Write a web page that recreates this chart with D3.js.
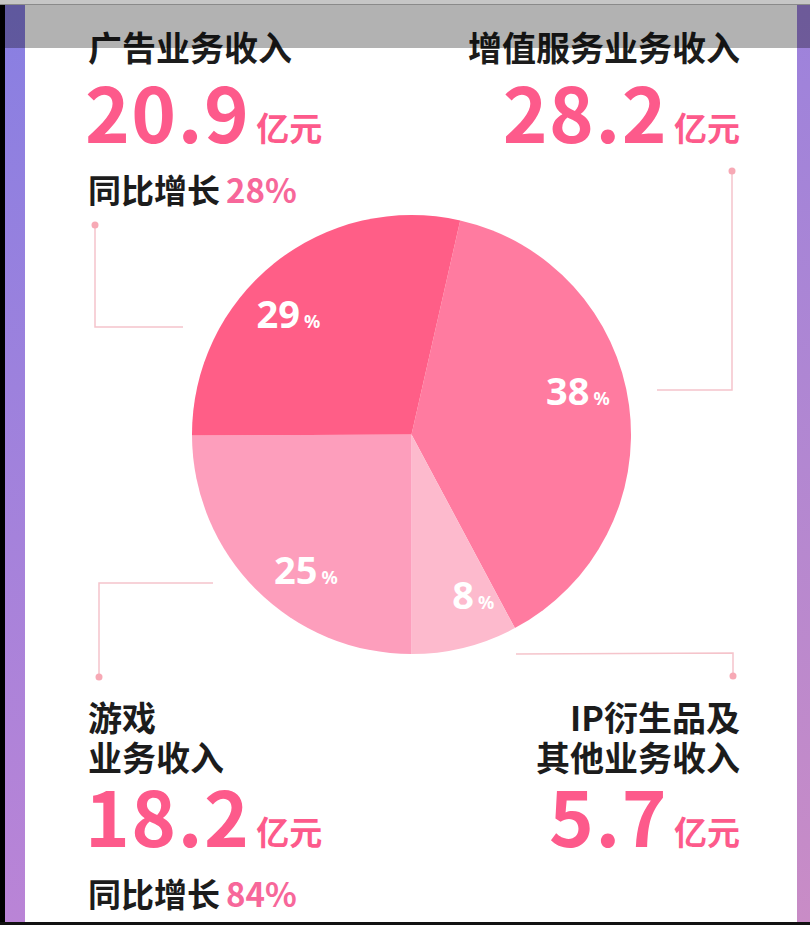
<!DOCTYPE html>
<html>
<head>
<meta charset="utf-8">
<script src="https://cdn.jsdelivr.net/npm/d3@7"></script>
<style>
  html, body { margin: 0; padding: 0; background: #fff; }
  svg { display: block; }
</style>
</head>
<body>
<svg id="graph"></svg>
<script>
// data, in pie order (clockwise from the right-hand slice)
var categories = ["增值服务业务收入", "IP衍生品及其他业务收入", "游戏业务收入", "广告业务收入"]
var titleLines = [["增值服务业务收入"], ["IP衍生品及", "其他业务收入"], ["游戏", "业务收入"], ["广告业务收入"]]
var revenue = [28.2, 5.7, 18.2, 20.9]
var revenueLabels = ["28.2", "5.7", "18.2", "20.9"]
var shareLabels = ["38", "8", "25", "29"]
var growthLabels = [null, null, "84%", "28%"]
var unit = "亿元"
var growthText = "同比增长"

var sliceColors = ["#ff7ba0", "#fdbacd", "#fd9ebc", "#ff5e87"]
var pink = "#fd5a8b"
var lineColor = "#f5c4cb"
var dotColor = "#f7a9b5"

var width = 810
var height = 925
var cx = 411.5, cy = 434.5, radius = 219.5

var svg = d3.select("#graph")
  .attr("width", width)
  .attr("height", height)

// side strips and frame
var defs = svg.append("defs")
var gl = defs.append("linearGradient").attr("id", "leftGrad")
  .attr("x1", 0).attr("y1", 0).attr("x2", 0).attr("y2", 1)
gl.append("stop").attr("offset", "0%").attr("stop-color", "#887fe2")
gl.append("stop").attr("offset", "100%").attr("stop-color", "#ba84d6")
var gr = defs.append("linearGradient").attr("id", "rightGrad")
  .attr("x1", 0).attr("y1", 0).attr("x2", 0).attr("y2", 1)
gr.append("stop").attr("offset", "0%").attr("stop-color", "#9c82dc")
gr.append("stop").attr("offset", "100%").attr("stop-color", "#c98cc6")

svg.append("rect").attr("x", 0).attr("y", 0).attr("width", width).attr("height", height).attr("fill", "#fff")
svg.append("rect").attr("x", 0).attr("y", 0).attr("width", 5).attr("height", height).attr("fill", "#000")
svg.append("rect").attr("x", 5).attr("y", 0).attr("width", 20).attr("height", height).attr("fill", "url(#leftGrad)")
svg.append("rect").attr("x", 797).attr("y", 0).attr("width", 13).attr("height", height).attr("fill", "url(#rightGrad)")
svg.append("rect").attr("x", 0).attr("y", 922).attr("width", width).attr("height", 3).attr("fill", "#111")

// pie
var total = d3.sum(revenue)
var start = Math.PI - 2 * Math.PI * (revenue[0] + revenue[1]) / total
var pie = d3.pie().sort(null).value(function(d) { return d })
  .startAngle(start).endAngle(start + 2 * Math.PI)
var arcs = pie(revenue)
var arc = d3.arc().innerRadius(0).outerRadius(radius)
var labelShift = -7 * Math.PI / 180
var labelArc = d3.arc().innerRadius(172).outerRadius(172)
  .startAngle(function(d) { return d.startAngle + labelShift })
  .endAngle(function(d) { return d.endAngle + labelShift })

var pieG = svg.append("g").attr("transform", "translate(" + cx + "," + cy + ")")
pieG.selectAll("path.slice")
  .data(arcs)
  .enter().append("path")
  .attr("class", "slice")
  .attr("d", arc)
  .attr("fill", function(d, i) { return sliceColors[i] })

var lab = pieG.selectAll("text.pct")
  .data(arcs)
  .enter().append("text")
  .attr("class", "pct")
  .attr("transform", function(d) { var c = labelArc.centroid(d); return "translate(" + c[0] + "," + (c[1] + 14) + ")" })
  .attr("text-anchor", "middle")
  .attr("fill", "#fff")
  .attr("font-family", "'Noto Sans', sans-serif")
  .attr("font-weight", "bold")
lab.append("tspan").attr("font-size", 38).text(function(d, i) { return shareLabels[i] })
lab.append("tspan").attr("font-size", 18).attr("dx", 4).text("%")

// connectors: [dot, corner, end]
var connectors = [
  [[732, 171], [732, 390], [657, 390]],
  [[733, 676], [733, 653], [516, 654]],
  [[99, 677], [99, 583], [213, 583]],
  [[95, 225], [95, 327], [183, 327]]
]
var line = d3.line()
svg.selectAll("path.conn")
  .data(connectors)
  .enter().append("path")
  .attr("class", "conn")
  .attr("d", function(d) { return line(d) })
  .attr("fill", "none")
  .attr("stroke", lineColor)
  .attr("stroke-width", 1.5)
svg.selectAll("circle.dot")
  .data(connectors)
  .enter().append("circle")
  .attr("class", "dot")
  .attr("cx", function(d) { return d[0][0] })
  .attr("cy", function(d) { return d[0][1] })
  .attr("r", 3.5)
  .attr("fill", dotColor)

// text blocks
var blocks = [
  { x: 740, anchor: "end", titleY: 61, numY: 143, growthY: null },
  { x: 740, anchor: "end", titleY: 731, numY: 847, growthY: null },
  { x: 88, anchor: "start", titleY: 731, numY: 847, growthY: 907 },
  { x: 88, anchor: "start", titleY: 61, numY: 143, growthY: 203 }
]
var cjk = "'Noto Sans CJK SC', 'Noto Sans', sans-serif"

blocks.forEach(function(b, i) {
  titleLines[i].forEach(function(t, j) {
    svg.append("text")
      .attr("x", b.x).attr("y", b.titleY + j * 40)
      .attr("text-anchor", b.anchor)
      .attr("font-family", cjk).attr("font-weight", "bold")
      .attr("font-size", 34).attr("fill", "#1c1c1c")
      .text(t)
  })
  var num = svg.append("text")
    .attr("x", b.anchor == "start" ? b.x - 3 : b.x).attr("y", b.numY)
    .attr("text-anchor", b.anchor)
    .attr("font-family", cjk).attr("font-weight", "bold")
    .attr("fill", pink)
  num.append("tspan").attr("font-size", 76).attr("letter-spacing", 1.5).text(revenueLabels[i])
  num.append("tspan").attr("font-size", 33).attr("dx", 6).attr("dy", -2).text(unit)
  if (growthLabels[i]) {
    var g = svg.append("text")
      .attr("x", b.x).attr("y", b.growthY)
      .attr("font-family", cjk).attr("font-weight", "bold")
    g.append("tspan").attr("font-size", 33).attr("fill", "#1c1c1c").text(growthText)
    g.append("tspan").attr("font-size", 33).attr("fill", "#f7679a").attr("dx", 6).text(growthLabels[i])
  }
})

// top overlay bar
svg.append("rect").attr("x", 0).attr("y", 0).attr("width", width).attr("height", 5).attr("fill", "#c6c6c6")
svg.append("rect").attr("x", 0).attr("y", 4).attr("width", width).attr("height", 44).attr("fill", "#000").attr("opacity", 0.3)
</script>
</body>
</html>
